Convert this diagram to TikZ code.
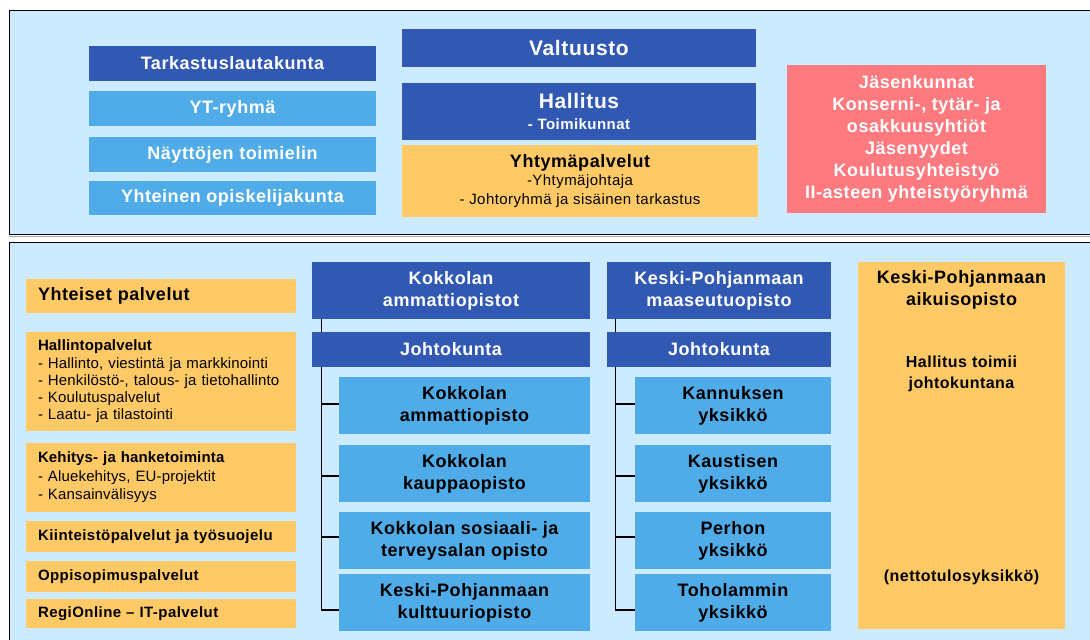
\documentclass[tikz,border=0pt]{standalone}
\usepackage{fontspec}
\setmainfont[LetterSpace=3]{Liberation Sans}
\definecolor{bgc}{HTML}{CCEBFE}
\definecolor{dkb}{HTML}{3159B3}
\definecolor{ltb}{HTML}{4FACE8}
\definecolor{org}{HTML}{FFCA66}
\definecolor{redb}{HTML}{FF7A7F}
\pgfdeclarelayer{panel}
\pgfdeclarelayer{lines}
\pgfsetlayers{panel,lines,main}
\begin{document}
\begin{tikzpicture}[x=1pt,y=-1pt,
  box/.style 2 args={minimum width=#1pt, minimum height=#2pt, inner sep=0pt, align=center},
  lbox/.style 2 args={minimum width=#1pt, minimum height=#2pt, inner ysep=0pt, inner xsep=12pt, text width=#1pt-24pt, align=left},
  dk/.style={fill=dkb, text=white, font=\fontsize{18}{22}\selectfont\bfseries},
  lt/.style={fill=ltb, text=white, font=\fontsize{18}{22}\selectfont\bfseries},
  ltk/.style={fill=ltb, text=black, font=\fontsize{18}{22}\selectfont\bfseries},
  og/.style={fill=org, text=black},
  rd/.style={fill=redb, text=white, font=\fontsize{18}{22}\selectfont\bfseries},
  txt/.style={inner sep=0pt, align=center, text=black},
  conn/.style={draw=black, line width=1.3pt}]
\useasboundingbox (0,0) rectangle (1090,640);

% ---------- panels ----------
\begin{pgfonlayer}{panel}
\fill[white] (0,0) rectangle (1090,640);
\draw[gray!70, line width=1pt] (9,236.8) -- (1095,236.8);
\draw[black, line width=1pt, fill=bgc] (9,10.5) rectangle (1095,234.5);
\draw[black, line width=1pt, fill=bgc] (9.5,242.5) rectangle (1095,650);
\end{pgfonlayer}

% ---------- top panel ----------
\node[dk, box={287}{35}] (tark) at (232.5,63.5) {Tarkastuslautakunta};
\node[lt, box={287}{35}] (yt) at (232.5,108.5) {YT-ryhmä};
\node[lt, box={287}{35}] (nayt) at (232.5,154.5) {Näyttöjen toimielin};
\node[lt, box={287}{34}] (opisk) at (232.5,198) {Yhteinen opiskelijakunta};

\node[dk, box={354}{38}, font=\fontsize{21}{24}\selectfont\bfseries] (valt) at (579,48) {Valtuusto};
\node[dk, box={354}{57}, font=\fontsize{21}{21}\selectfont\bfseries] (hall) at (579,111) {Hallitus\\{\fontsize{15}{17}\selectfont - Toimikunnat}};
\node[og, box={356}{72}, font=\fontsize{15}{18.5}\selectfont] (ypal) at (580,181) {{\fontsize{18}{20}\selectfont\bfseries Yhtymäpalvelut}\\-Yhtymäjohtaja\\- Johtoryhmä ja sisäinen tarkastus};

\node[rd, box={259}{148}] (jasen) at (916.5,139) {Jäsenkunnat\\Konserni-, tytär- ja\\osakkuusyhtiöt\\Jäsenyydet\\Koulutusyhteistyö\\II-asteen yhteistyöryhmä};

% ---------- bottom left: yhteiset palvelut ----------
\node[og, lbox={270}{34}, font=\fontsize{18}{22}\selectfont\bfseries] (yp) at (161,296) {Yhteiset palvelut};
\node[og, lbox={270}{99}, font=\fontsize{15}{17.3}\selectfont\addfontfeatures{LetterSpace=1}] (hp) at (161,381.5) {\textbf{Hallintopalvelut}\\- Hallinto, viestintä ja markkinointi\\- Henkilöstö-, talous- ja tietohallinto\\- Koulutuspalvelut\\- Laatu- ja tilastointi};
\node[og, lbox={270}{69}, font=\fontsize{15}{18.5}\selectfont\addfontfeatures{LetterSpace=1}] (kh) at (161,477.5) {\textbf{Kehitys- ja hanketoiminta}\\- Aluekehitys, EU-projektit\\- Kansainvälisyys};
\node[og, lbox={270}{31}, font=\fontsize{15}{18}\selectfont\bfseries] (kiin) at (161,536.5) {Kiinteistöpalvelut ja työsuojelu};
\node[og, lbox={270}{31}, font=\fontsize{15}{18}\selectfont\bfseries] (opso) at (161,576.5) {Oppisopimuspalvelut};
\node[og, lbox={270}{29}, font=\fontsize{15}{18}\selectfont\bfseries] (regi) at (161,613.5) {RegiOnline – IT-palvelut};

% ---------- column 1 ----------
\node[dk, box={278}{57}] (k1) at (451,290.5) {Kokkolan\\ammattiopistot};
\node[dk, box={278}{35}] (k1j) at (451,349.5) {Johtokunta};
\node[ltk, box={251}{57}] (k1a) at (464.5,405.5) {Kokkolan\\ammattiopisto};
\node[ltk, box={251}{57}] (k1b) at (464.5,473.5) {Kokkolan\\kauppaopisto};
\node[ltk, box={251}{57}] (k1c) at (464.5,540.5) {Kokkolan sosiaali- ja\\terveysalan opisto};
\node[ltk, box={251}{57}] (k1d) at (464.5,602.5) {Keski-Pohjanmaan\\kulttuuriopisto};

% ---------- column 2 ----------
\node[dk, box={224}{57}] (k2) at (719,290.5) {Keski-Pohjanmaan\\maaseutuopisto};
\node[dk, box={224}{35}] (k2j) at (719,349.5) {Johtokunta};
\node[ltk, box={196}{57}] (k2a) at (733,405.5) {Kannuksen\\yksikkö};
\node[ltk, box={196}{57}] (k2b) at (733,473.5) {Kaustisen\\yksikkö};
\node[ltk, box={196}{57}] (k2c) at (733,540.5) {Perhon\\yksikkö};
\node[ltk, box={196}{57}] (k2d) at (733,602.5) {Toholammin\\yksikkö};

% ---------- right column ----------
\node[og, box={207}{367}] (aik) at (961.5,445.5) {};
\node[txt, font=\fontsize{18}{22}\selectfont\bfseries] (aik1) at (961.5,290) {Keski-Pohjanmaan\\aikuisopisto};
\node[txt, font=\fontsize{16}{21}\selectfont\bfseries] (aik2) at (961.5,373.5) {Hallitus toimii\\johtokuntana};
\node[txt, font=\fontsize{16}{21}\selectfont\bfseries] (aik3) at (961.5,577) {(nettotulosyksikkö)};

% ---------- connectors ----------
\begin{pgfonlayer}{lines}
\coordinate (v1) at ([xshift=10pt]k1.south west);
\draw[conn] (v1) |- ([yshift=-7.5pt]k1d.west);
\draw[conn] ([yshift=1.5pt]k1a.west -| v1) -- ([yshift=1.5pt]k1a.west);
\draw[conn] ([yshift=-2.5pt]k1b.west -| v1) -- ([yshift=-2.5pt]k1b.west);
\draw[conn] ([yshift=3.5pt]k1c.west -| v1) -- ([yshift=3.5pt]k1c.west);
\coordinate (v2) at ([xshift=9pt]k2.south west);
\draw[conn] (v2) |- ([yshift=-7.5pt]k2d.west);
\draw[conn] ([yshift=1.5pt]k2a.west -| v2) -- ([yshift=1.5pt]k2a.west);
\draw[conn] ([yshift=-2.5pt]k2b.west -| v2) -- ([yshift=-2.5pt]k2b.west);
\draw[conn] ([yshift=3.5pt]k2c.west -| v2) -- ([yshift=3.5pt]k2c.west);
\end{pgfonlayer}
\end{tikzpicture}
\end{document}
